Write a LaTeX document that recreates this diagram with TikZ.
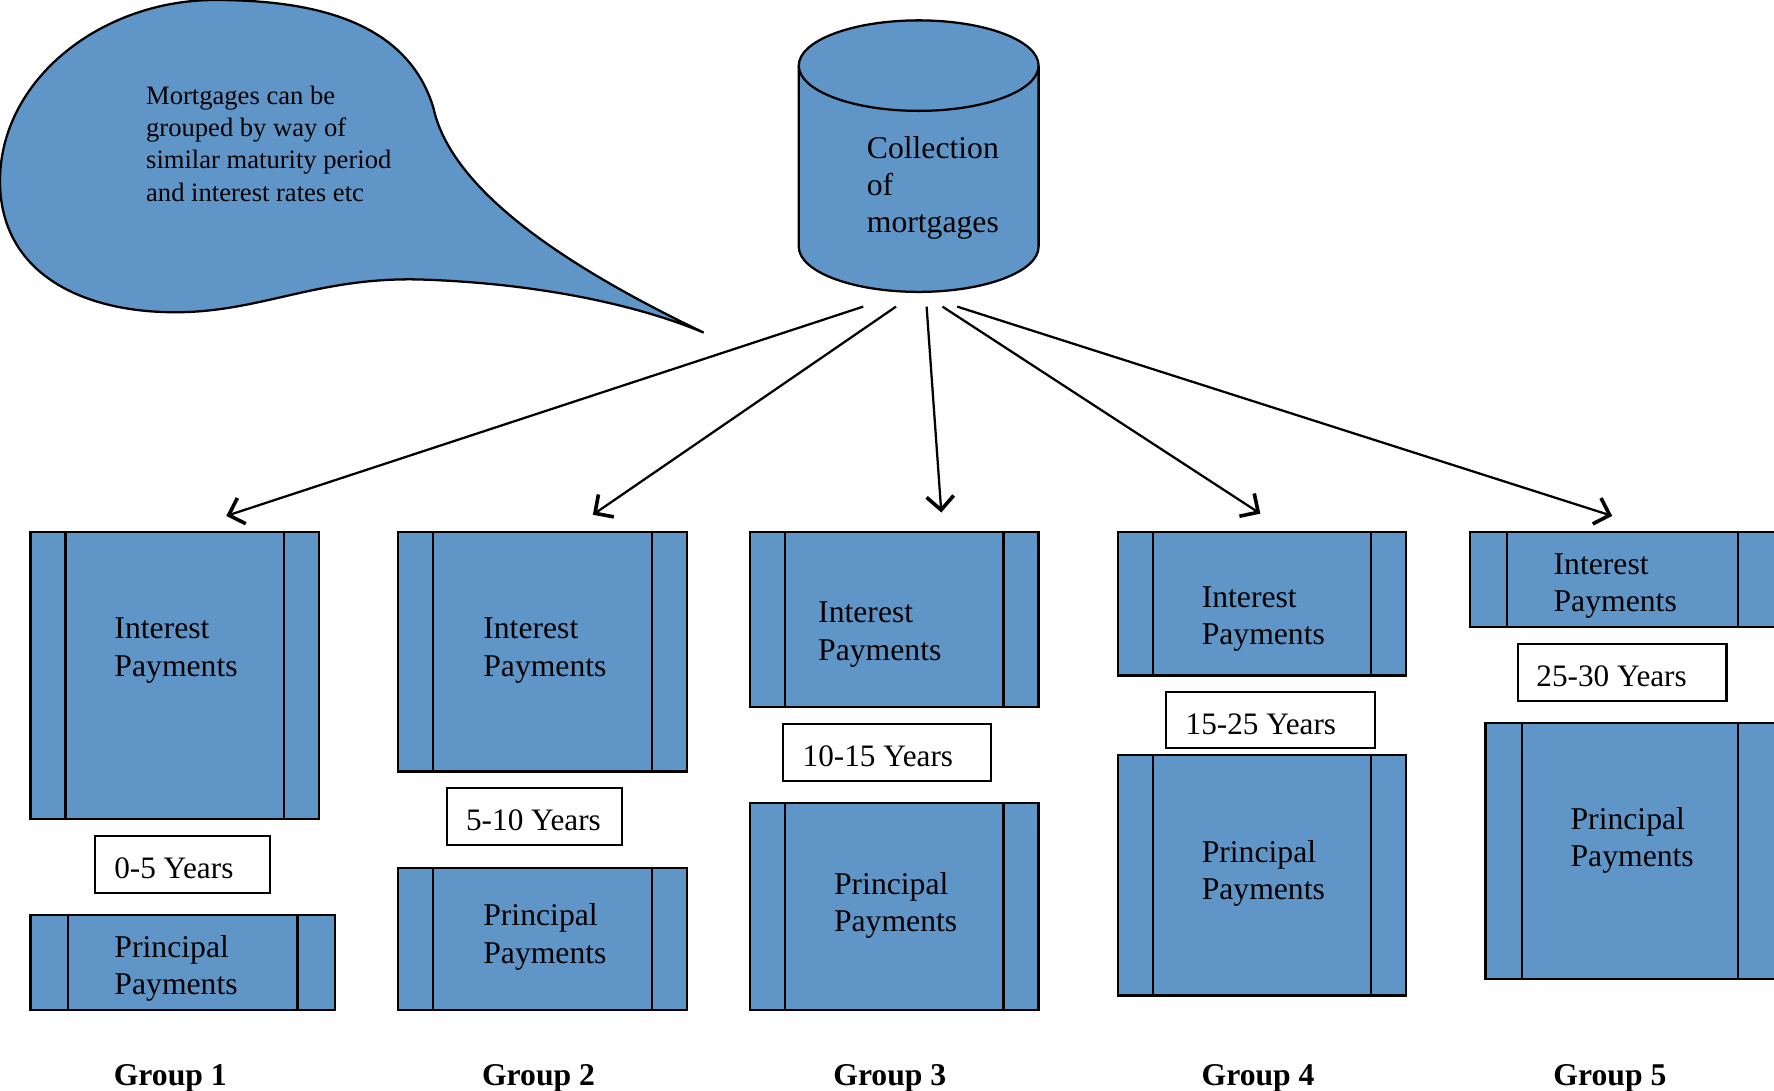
\documentclass[tikz,border=0pt]{standalone}
\usepackage{fontspec}
\setmainfont{Liberation Serif}
\usetikzlibrary{arrows.meta}
\definecolor{bfill}{RGB}{96,149,199}
\tikzset{
  pbx/.style={draw=black, fill=bfill, line width=2pt, rectangle, inner sep=0pt},
  pline/.style={draw=black, line width=2pt},
  ybox/.style={draw=black, fill=white, line width=1.8pt, inner ysep=0pt, inner xsep=17pt,
    align=flush left, font=\fontsize{27.6}{33}\selectfont, minimum height=50pt,
    text height=25pt, text depth=0pt},
  lbl/.style={inner sep=0pt, align=left, font=\fontsize{28}{33}\selectfont, anchor=west},
  grp/.style={inner sep=0pt, font=\fontsize{28}{33}\selectfont\bfseries, anchor=base},
  conn/.style={line width=2pt, -{Straight Barb[length=12pt,width=24pt,line width=3.2pt]}},
  shapeline/.style={draw=black, line width=2pt, fill=bfill}
}
\newcommand\pbox[7]{%
  \node[pbx, minimum width={(#4-(#2))*1pt}, minimum height={(#5-(#3))*1pt}] (#1) at ({(#2+#4)/2},{(#3+#5)/2}) {};
  \draw[pline] ([xshift=#6pt]#1.north west) -- ([xshift=#6pt]#1.south west);
  \draw[pline] ([xshift=-#7pt]#1.north east) -- ([xshift=-#7pt]#1.south east);
}
\begin{document}
\begin{tikzpicture}[x=1pt,y=-1pt]
\useasboundingbox (0,0) rectangle (1568,964);

% callout bubble
\path[shapeline] (622,294)
  .. controls (520,245) and (400,175) .. (383,95)
  .. controls (360,20) and (280,0) .. (190,0)
  .. controls (90,0) and (0,70) .. (0,160)
  .. controls (0,240) and (70,276) .. (155,276)
  .. controls (230,276) and (280,245) .. (370,247)
  .. controls (470,250) and (560,268) .. (622,294) -- cycle;
\node[inner sep=0pt, align=left, anchor=west, font=\fontsize{23.5}{28.5}\selectfont] (note) at (129,127)
  {Mortgages can be\\grouped by way of\\similar maturity period\\and interest rates etc};

% cylinder
\path[fill=bfill] (706,58) -- (706,218) arc[start angle=180, end angle=360, x radius=106pt, y radius=40pt] -- (918,58) -- cycle;
\draw[line width=2pt] (706,58) -- (706,218) arc[start angle=180, end angle=360, x radius=106pt, y radius=40pt] -- (918,58);
\draw[shapeline] (812,58) ellipse [x radius=106pt, y radius=40pt];
\coordinate (cyl) at (812,138);
\node[lbl] (coll) at (766,166) {Collection\\of\\mortgages};

% boxes
\pbox{i1}{27}{470}{282}{724}{32}{32}
\pbox{p1}{27}{809}{296}{893}{34}{34}
\pbox{i2}{352}{470}{607}{682}{32}{32}
\pbox{p2}{352}{767}{607}{893}{32}{32}
\pbox{i3}{663}{470}{918}{625}{32}{32}
\pbox{p3}{663}{710}{918}{893}{32}{32}
\pbox{i4}{988}{470}{1243}{597}{32}{32}
\pbox{p4}{988}{667}{1243}{880}{32}{32}
\pbox{i5}{1299}{470}{1569}{554}{34}{34}
\pbox{p5}{1313}{639}{1569}{865}{33}{34}

% box texts
\node[lbl] (i1t) at (101,575) {Interest\\Payments};
\node[lbl] (p1t) at (101,856) {Principal\\Payments};
\node[lbl] (i2t) at (427,575) {Interest\\Payments};
\node[lbl] (p2t) at (427,828) {Principal\\Payments};
\node[lbl] (i3t) at (723,561) {Interest\\Payments};
\node[lbl] (p3t) at (737,800) {Principal\\Payments};
\node[lbl] (i4t) at (1062,547) {Interest\\Payments};
\node[lbl] (p4t) at (1062,772) {Principal\\Payments};
\node[lbl] (i5t) at (1373,518) {Interest\\Payments};
\node[lbl] (p5t) at (1388,743) {Principal\\Payments};

% year boxes
\node[ybox, text width=121pt] (y1) at (161.5,764) {0-5~Years};
\node[ybox, text width=121pt] (y2) at (472.5,721.5) {5-10~Years};
\node[ybox, text width=149pt, inner xsep=17.5pt] (y3) at (784,665) {10-15~Years};
\node[ybox, text width=150pt] (y4) at (1123,636.5) {15-25~Years};
\node[ybox, text width=152pt, inner xsep=16pt] (y5) at (1434,594.5) {25-30~Years};

% group labels
\node[grp] (g1) at (150.5,959) {Group 1};
\node[grp] (g2) at (476,959) {Group 2};
\node[grp] (g3) at (786.5,959) {Group 3};
\node[grp] (g4) at (1112,959) {Group 4};
\node[grp] (g5) at (1423,959) {Group 5};

% connectors
\coordinate (s1) at (763,271);
\coordinate (s2) at (792,271);
\coordinate (s3) at (819,271);
\coordinate (s4) at (833,271);
\coordinate (s5) at (846,271);
\coordinate (e1) at (200,456);
\coordinate (e2) at (524,455);
\coordinate (e3) at (832,453);
\coordinate (e4) at (1114,454);
\coordinate (e5) at (1425,456);
\draw[conn] (s1) -- (e1);
\draw[conn] (s2) -- (e2);
\draw[conn] (s3) -- (e3);
\draw[conn] (s4) -- (e4);
\draw[conn] (s5) -- (e5);
\end{tikzpicture}
\end{document}
